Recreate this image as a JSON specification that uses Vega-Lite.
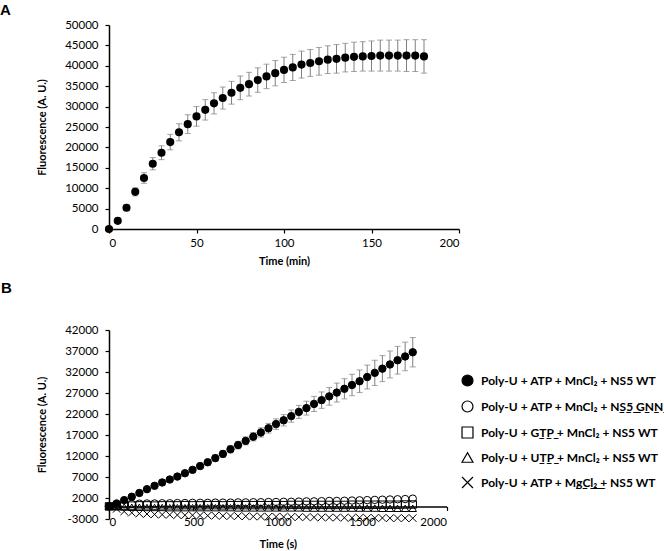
{
  "$schema": "https://vega.github.io/schema/vega-lite/v6.json",
  "background": "white",
  "padding": {"left": 0, "top": 3, "right": 0, "bottom": 0},
  "config": {
    "font": "Lato",
    "view": {"stroke": null},
    "axis": {"grid": false, "domainColor": "black", "domainWidth": 1.5, "tickColor": "black", "tickWidth": 1.2, "tickSize": 4, "labelFont": "Lato", "labelFontSize": 11.5, "labelColor": "black", "labelPadding": 4, "titleFont": "Lato", "titleFontSize": 11, "titleFontWeight": "bold", "titleColor": "black"},
    "title": {"font": "Liberation Sans", "fontSize": 15, "fontWeight": "bold", "color": "black", "anchor": "start", "frame": "group"}
  },
  "datasets": {
    "a": [
      {"t": 0, "v": 0, "e": 0}, {"t": 5, "v": 2000, "e": 400}, {"t": 10, "v": 5200, "e": 700}, {"t": 15, "v": 9100, "e": 1000},
      {"t": 20, "v": 12500, "e": 1300}, {"t": 25, "v": 16000, "e": 1500}, {"t": 30, "v": 18700, "e": 1700}, {"t": 35, "v": 21300, "e": 1900},
      {"t": 40, "v": 23700, "e": 2100}, {"t": 45, "v": 25700, "e": 2300}, {"t": 50, "v": 27600, "e": 2400}, {"t": 55, "v": 29200, "e": 2500},
      {"t": 60, "v": 30800, "e": 2600}, {"t": 65, "v": 32100, "e": 2700}, {"t": 70, "v": 33400, "e": 2800}, {"t": 75, "v": 34600, "e": 2900},
      {"t": 80, "v": 35500, "e": 2900}, {"t": 85, "v": 36500, "e": 3000}, {"t": 90, "v": 37400, "e": 3000}, {"t": 95, "v": 38200, "e": 3100},
      {"t": 100, "v": 39000, "e": 3100}, {"t": 105, "v": 39600, "e": 3200}, {"t": 110, "v": 40300, "e": 3300}, {"t": 115, "v": 40700, "e": 3300},
      {"t": 120, "v": 41100, "e": 3400}, {"t": 125, "v": 41500, "e": 3400}, {"t": 130, "v": 41700, "e": 3500}, {"t": 135, "v": 42000, "e": 3500},
      {"t": 140, "v": 42200, "e": 3600}, {"t": 145, "v": 42300, "e": 3600}, {"t": 150, "v": 42400, "e": 3700}, {"t": 155, "v": 42500, "e": 3800},
      {"t": 160, "v": 42500, "e": 3800}, {"t": 165, "v": 42500, "e": 3800}, {"t": 170, "v": 42500, "e": 3900}, {"t": 175, "v": 42500, "e": 3900},
      {"t": 180, "v": 42300, "e": 4100}
    ],
    "b": [
      {"t": 0, "wt": 0, "e": 0, "gnn": 0, "gtp": 0, "utp": 0, "mg": 0},
      {"t": 45, "wt": 700, "e": 100, "gnn": 300, "gtp": 150, "utp": -100, "mg": -600},
      {"t": 90, "wt": 1500, "e": 150, "gnn": 500, "gtp": 200, "utp": -150, "mg": -1200},
      {"t": 135, "wt": 2300, "e": 200, "gnn": 600, "gtp": 200, "utp": -200, "mg": -1500},
      {"t": 180, "wt": 3200, "e": 250, "gnn": 650, "gtp": 250, "utp": -200, "mg": -1700},
      {"t": 225, "wt": 4100, "e": 300, "gnn": 700, "gtp": 250, "utp": -250, "mg": -1800},
      {"t": 270, "wt": 4900, "e": 350, "gnn": 700, "gtp": 200, "utp": -250, "mg": -1900},
      {"t": 315, "wt": 5700, "e": 400, "gnn": 750, "gtp": 250, "utp": -250, "mg": -1950},
      {"t": 360, "wt": 6400, "e": 450, "gnn": 750, "gtp": 250, "utp": -300, "mg": -2000},
      {"t": 405, "wt": 7100, "e": 500, "gnn": 800, "gtp": 250, "utp": -300, "mg": -2050},
      {"t": 450, "wt": 7900, "e": 550, "gnn": 800, "gtp": 300, "utp": -300, "mg": -2100},
      {"t": 495, "wt": 8700, "e": 600, "gnn": 850, "gtp": 250, "utp": -300, "mg": -2100},
      {"t": 540, "wt": 9600, "e": 650, "gnn": 850, "gtp": 250, "utp": -300, "mg": -2150},
      {"t": 585, "wt": 10500, "e": 700, "gnn": 850, "gtp": 300, "utp": -300, "mg": -2200},
      {"t": 630, "wt": 11500, "e": 750, "gnn": 900, "gtp": 300, "utp": -300, "mg": -2200},
      {"t": 675, "wt": 12500, "e": 800, "gnn": 900, "gtp": 250, "utp": -300, "mg": -2250},
      {"t": 720, "wt": 13600, "e": 850, "gnn": 900, "gtp": 300, "utp": -300, "mg": -2300},
      {"t": 765, "wt": 14600, "e": 900, "gnn": 950, "gtp": 300, "utp": -350, "mg": -2300},
      {"t": 810, "wt": 15600, "e": 950, "gnn": 950, "gtp": 300, "utp": -350, "mg": -2350},
      {"t": 855, "wt": 16600, "e": 1000, "gnn": 1000, "gtp": 300, "utp": -350, "mg": -2400},
      {"t": 900, "wt": 17600, "e": 1100, "gnn": 1000, "gtp": 300, "utp": -350, "mg": -2400},
      {"t": 945, "wt": 18600, "e": 1150, "gnn": 1050, "gtp": 300, "utp": -350, "mg": -2450},
      {"t": 990, "wt": 19600, "e": 1250, "gnn": 1050, "gtp": 300, "utp": -350, "mg": -2450},
      {"t": 1035, "wt": 20500, "e": 1350, "gnn": 1100, "gtp": 300, "utp": -350, "mg": -2500},
      {"t": 1080, "wt": 21500, "e": 1450, "gnn": 1100, "gtp": 350, "utp": -350, "mg": -2500},
      {"t": 1125, "wt": 22500, "e": 1550, "gnn": 1150, "gtp": 350, "utp": -350, "mg": -2550},
      {"t": 1170, "wt": 23400, "e": 1650, "gnn": 1200, "gtp": 350, "utp": -400, "mg": -2550},
      {"t": 1215, "wt": 24400, "e": 1800, "gnn": 1200, "gtp": 350, "utp": -400, "mg": -2600},
      {"t": 1260, "wt": 25300, "e": 1950, "gnn": 1250, "gtp": 350, "utp": -400, "mg": -2600},
      {"t": 1305, "wt": 26200, "e": 2100, "gnn": 1300, "gtp": 350, "utp": -400, "mg": -2650},
      {"t": 1350, "wt": 27100, "e": 2250, "gnn": 1300, "gtp": 350, "utp": -400, "mg": -2650},
      {"t": 1395, "wt": 28000, "e": 2400, "gnn": 1350, "gtp": 350, "utp": -400, "mg": -2700},
      {"t": 1440, "wt": 28900, "e": 2550, "gnn": 1400, "gtp": 400, "utp": -400, "mg": -2700},
      {"t": 1485, "wt": 29800, "e": 2700, "gnn": 1450, "gtp": 400, "utp": -400, "mg": -2700},
      {"t": 1530, "wt": 30800, "e": 2850, "gnn": 1500, "gtp": 400, "utp": -400, "mg": -2750},
      {"t": 1575, "wt": 31800, "e": 3000, "gnn": 1550, "gtp": 400, "utp": -400, "mg": -2750},
      {"t": 1620, "wt": 32800, "e": 3100, "gnn": 1600, "gtp": 400, "utp": -450, "mg": -2750},
      {"t": 1665, "wt": 33800, "e": 3200, "gnn": 1650, "gtp": 400, "utp": -450, "mg": -2800},
      {"t": 1710, "wt": 34800, "e": 3300, "gnn": 1700, "gtp": 400, "utp": -450, "mg": -2800},
      {"t": 1755, "wt": 35700, "e": 3400, "gnn": 1750, "gtp": 450, "utp": -450, "mg": -2800},
      {"t": 1800, "wt": 36700, "e": 3500, "gnn": 1850, "gtp": 450, "utp": -450, "mg": -2800}
    ]
  },
  "spacing": 14,
  "vconcat": [
    {
      "width": 350,
      "height": 204,
      "title": {"text": "A", "dx": -109, "offset": 1},
      "data": {"name": "a"},
      "encoding": {
        "x": {"field": "t", "type": "quantitative", "scale": {"domain": [0, 200]}, "axis": {"values": [0, 50, 100, 150, 200], "title": "Time (min)", "titlePadding": 7}},
        "y": {"field": "v", "type": "quantitative", "scale": {"domain": [0, 50000]}, "axis": {"values": [0, 5000, 10000, 15000, 20000, 25000, 30000, 35000, 40000, 45000, 50000], "format": "d", "labelPadding": 7, "title": "Fluorescence (A. U.)", "titlePadding": 17}}
      },
      "layer": [
        {
          "mark": {"type": "errorbar", "color": "#7f7f7f", "thickness": 1, "ticks": {"size": 6, "color": "#7f7f7f"}},
          "encoding": {"yError": {"field": "e"}}
        },
        {
          "mark": {"type": "point", "filled": true, "color": "black", "size": 66, "shape": "circle", "opacity": 1}
        }
      ]
    },
    {
      "width": 337.5,
      "height": 189,
      "title": {"text": "B", "dx": -108, "offset": 28},
      "data": {"name": "b"},
      "encoding": {
        "x": {"field": "t", "type": "quantitative", "scale": {"domain": [0, 2000]}, "axis": {"values": [0, 500, 1000, 1500, 2000], "format": "d", "title": "Time (s)", "offset": -12.6, "labelPadding": 6, "titlePadding": 11}}
      },
      "layer": [
        {
          "mark": {"type": "errorbar", "color": "#7f7f7f", "thickness": 1, "ticks": {"size": 6, "color": "#7f7f7f"}},
          "encoding": {
            "y": {"field": "wt", "type": "quantitative", "scale": {"domain": [-3000, 42000], "nice": false}, "axis": {"values": [-3000, 2000, 7000, 12000, 17000, 22000, 27000, 32000, 37000, 42000], "labelExpr": "'' + datum.value", "labelPadding": 7, "title": "Fluorescence (A. U.)", "titlePadding": 17}},
            "yError": {"field": "e"}
          }
        },
        {
          "transform": [{"fold": ["gnn", "gtp", "utp", "mg"], "as": ["s", "val"]}],
          "mark": {"type": "point", "filled": true, "strokeWidth": 1, "size": 55, "opacity": 1},
          "encoding": {
            "y": {"field": "val", "type": "quantitative", "scale": {"domain": [-3000, 42000], "nice": false}, "axis": {"values": [-3000, 2000, 7000, 12000, 17000, 22000, 27000, 32000, 37000, 42000], "labelExpr": "'' + datum.value", "labelPadding": 7, "title": "Fluorescence (A. U.)", "titlePadding": 17}},
            "shape": {"field": "s", "type": "nominal", "scale": {"domain": ["wt", "gnn", "gtp", "utp", "mg"], "range": ["circle", "circle", "square", "triangle-up", "M-1,-1L1,1M1,-1L-1,1"]},
              "legend": {"title": null, "orient": "none", "legendX": 352, "legendY": 349, "symbolSize": 120, "symbolStrokeWidth": 1.2, "labelFont": "Lato", "labelFontSize": 12, "labelFontWeight": "bold", "labelColor": "black", "labelLimit": 400, "rowPadding": 9, "labelOffset": 7,
                "labelExpr": "{'wt': 'Poly-U + ATP + MnCl\u2082 + NS5 WT', 'gnn': 'Poly-U + ATP + MnCl\u2082 + N\u0332S\u03325\u0332 \u0332G\u0332N\u0332N\u0332', 'gtp': 'Poly-U + G\u0332T\u0332P\u0332 + MnCl\u2082 + NS5 WT', 'utp': 'Poly-U + U\u0332T\u0332P\u0332 + MnCl\u2082 + NS5 WT', 'mg': 'Poly-U + ATP + M\u0332g\u0332C\u0332l\u0332\u2082\u0332 \u0332+ NS5 WT'}[datum.label]"}},
            "fill": {"field": "s", "type": "nominal", "scale": {"domain": ["wt", "gnn", "gtp", "utp", "mg"], "range": ["black", "transparent", "transparent", "transparent", "transparent"]},
              "legend": {"title": null, "orient": "none", "legendX": 352, "legendY": 349, "symbolSize": 120, "symbolStrokeWidth": 1.2, "labelFont": "Lato", "labelFontSize": 12, "labelFontWeight": "bold", "labelColor": "black", "labelLimit": 400, "rowPadding": 9, "labelOffset": 7,
                "labelExpr": "{'wt': 'Poly-U + ATP + MnCl\u2082 + NS5 WT', 'gnn': 'Poly-U + ATP + MnCl\u2082 + N\u0332S\u03325\u0332 \u0332G\u0332N\u0332N\u0332', 'gtp': 'Poly-U + G\u0332T\u0332P\u0332 + MnCl\u2082 + NS5 WT', 'utp': 'Poly-U + U\u0332T\u0332P\u0332 + MnCl\u2082 + NS5 WT', 'mg': 'Poly-U + ATP + M\u0332g\u0332C\u0332l\u0332\u2082\u0332 \u0332+ NS5 WT'}[datum.label]"}},
            "stroke": {"field": "s", "type": "nominal", "scale": {"domain": ["wt", "gnn", "gtp", "utp", "mg"], "range": ["black", "black", "black", "black", "black"]},
              "legend": {"title": null, "orient": "none", "legendX": 352, "legendY": 349, "symbolSize": 120, "symbolStrokeWidth": 1.2, "labelFont": "Lato", "labelFontSize": 12, "labelFontWeight": "bold", "labelColor": "black", "labelLimit": 400, "rowPadding": 9, "labelOffset": 7,
                "labelExpr": "{'wt': 'Poly-U + ATP + MnCl\u2082 + NS5 WT', 'gnn': 'Poly-U + ATP + MnCl\u2082 + N\u0332S\u03325\u0332 \u0332G\u0332N\u0332N\u0332', 'gtp': 'Poly-U + G\u0332T\u0332P\u0332 + MnCl\u2082 + NS5 WT', 'utp': 'Poly-U + U\u0332T\u0332P\u0332 + MnCl\u2082 + NS5 WT', 'mg': 'Poly-U + ATP + M\u0332g\u0332C\u0332l\u0332\u2082\u0332 \u0332+ NS5 WT'}[datum.label]"}}
          }
        },
        {
          "transform": [{"fold": ["wt"], "as": ["s", "val"]}],
          "mark": {"type": "point", "filled": true, "strokeWidth": 1, "size": 55, "opacity": 1},
          "encoding": {
            "y": {"field": "val", "type": "quantitative", "scale": {"domain": [-3000, 42000], "nice": false}, "axis": {"values": [-3000, 2000, 7000, 12000, 17000, 22000, 27000, 32000, 37000, 42000], "labelExpr": "'' + datum.value", "labelPadding": 7, "title": "Fluorescence (A. U.)", "titlePadding": 17}},
            "shape": {"field": "s", "type": "nominal"},
            "fill": {"field": "s", "type": "nominal"},
            "stroke": {"field": "s", "type": "nominal"}
          }
        }
      ]
    }
  ]
}
